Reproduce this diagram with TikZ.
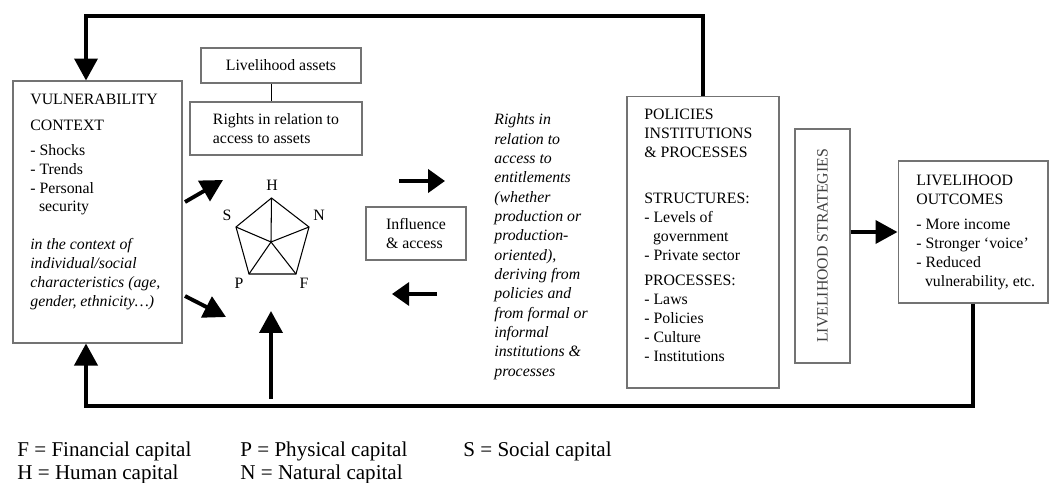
\documentclass[tikz,border=0pt]{standalone}
\usepackage{fontspec}
\setmainfont{Liberation Serif}
\usepackage{tikz}
\usetikzlibrary{arrows.meta}
\tikzstyle{box}=[draw=black!55, line width=.6pt, inner sep=0pt, align=left, font=\fontsize{9}{10.8}\selectfont]
\tikzstyle{txt}=[inner sep=0pt, align=left, anchor=north west, font=\fontsize{9}{10.8}\selectfont]
\tikzstyle{lgd}=[inner sep=0pt, anchor=base west, font=\fontsize{12}{14}\selectfont]
\tikzstyle{fat}=[line width=2.2pt, -{Triangle[length=.44cm, width=.46cm]}]
\tikzstyle{mid}=[line width=2.4pt, -{Triangle[length=.34cm, width=.46cm]}]

\begin{document}
\begin{tikzpicture}[x=0.02cm, y=-0.02cm]
      \useasboundingbox (0,0) rectangle (1051,483);

      \node[box, minimum width=3.38cm, minimum height=5.24cm] (vul) at (97.5,212) {};
      \node[txt] (vultxt) at (30,93.5) {VULNERABILITY\\[3.9pt]
        CONTEXT\\[3.4pt]
        - Shocks\\
        - Trends\\
        - Personal\\
        \hspace*{.55em}security\\[10.8pt]
        \textit{in the context of}\\
        \textit{individual/social}\\
        \textit{characteristics (age,}\\
        \textit{gender, ethnicity\dots)}};

      \node[box, minimum width=3.2cm, minimum height=.7cm] (assets) at (281,65.5) {Livelihood assets};
      \node[box, minimum width=3.44cm, minimum height=1.06cm] (rights) at (276,128.5) {Rights in relation to\\access to assets};

      \coordinate (ph) at (271.5,198);
      \coordinate (pn) at (309,227);
      \coordinate (pf) at (296,274);
      \coordinate (pp) at (249,274);
      \coordinate (ps) at (236,227);
      \coordinate (pc) at (271,242);

      \node[txt, anchor=center] (lh) at (272,185) {H};
      \node[txt, anchor=center] (ln) at (319,215) {N};
      \node[txt, anchor=center] (ls) at (227,215) {S};
      \node[txt, anchor=center] (lp) at (239,283) {P};
      \node[txt, anchor=center] (lf) at (304,283) {F};

      \node[box, minimum width=2cm, minimum height=1.06cm] (infl) at (416,233.5) {Influence\\\& access};

      \node[txt, font=\fontsize{9}{11}\selectfont\itshape] (rtxt) at (494,113.5) {Rights in\\
        relation to\\
        access to\\
        entitlements\\
        (whether\\
        production or\\
        production-\\
        oriented),\\
        deriving from\\
        policies and\\
        from formal or\\
        informal\\
        institutions \&\\
        processes};

      \node[box, minimum width=3.04cm, minimum height=5.84cm] (pol) at (703,242) {};
      \node[txt] (poltxt) at (644,108.8) {POLICIES\\
        INSTITUTIONS\\
        \& PROCESSES\\[15.3pt]
        STRUCTURES:\\
        - Levels of\\
        \hspace*{.55em}government\\
        - Private sector\\[3.4pt]
        PROCESSES:\\
        - Laws\\
        - Policies\\
        - Culture\\
        - Institutions};

      \node[box, minimum width=1.1cm, minimum height=4.68cm] (strat) at (822.5,246) {};
      \node[txt, anchor=center, rotate=90, text=black!75] (strattxt) at (strat) {LIVELIHOOD STRATEGIES};

      \node[box, minimum width=3cm, minimum height=2.84cm] (out) at (973,232) {};
      \node[txt] (outtxt) at (916,174.5) {LIVELIHOOD\\
        OUTCOMES\\[3.4pt]
        - More income\\
        - Stronger `voice'\\
        - Reduced\\
        \hspace*{.55em}vulnerability, etc.};

      \node[lgd] (lf1) at (17,456) {F = Financial capital};
      \node[lgd] (lh1) at (17,479) {H = Human capital};
      \node[lgd] (lp1) at (240,456) {P = Physical capital};
      \node[lgd] (ln1) at (240,479) {N = Natural capital};
      \node[lgd] (ls1) at (463,456) {S = Social capital};

      \coordinate (tl) at (86,16);
      \coordinate (bl) at (86,406);
      \coordinate (up) at (271,399);
      \coordinate (upend) at (271,311);
      \coordinate (a1) at (185,202);
      \coordinate (a1e) at (223,180);
      \coordinate (a2) at (185,296);
      \coordinate (a2e) at (226,317);
      \coordinate (r1) at (399,181);
      \coordinate (r1e) at (445,181);
      \coordinate (l1) at (437,294);
      \coordinate (l1e) at (392,294);

      \draw[line width=.6pt] (assets.south -| ph) -- (rights.north -| ph);

      \draw[line width=.6pt] (ph) -- (pn) -- (pf) -- (pp) -- (ps) -- cycle;
      \foreach \v in {ph,pn,pf,pp,ps}
        \draw[line width=.6pt] (pc) -- (\v);

      \draw[fat] (pol.north) |- (tl) -- (tl |- vul.north);
      \draw[fat] (out.south) |- (bl) -- (bl |- vul.south);
      \draw[fat] (up) -- (upend);
      \draw[fat] (a1) -- (a1e);
      \draw[fat] (a2) -- (a2e);
      \draw[mid] (r1) -- (r1e);
      \draw[mid, line width=1.8pt] (l1) -- (l1e);
      \draw[fat] (out.west -| strat.east) -- (out.west);
    \end{tikzpicture}
\end{document}
